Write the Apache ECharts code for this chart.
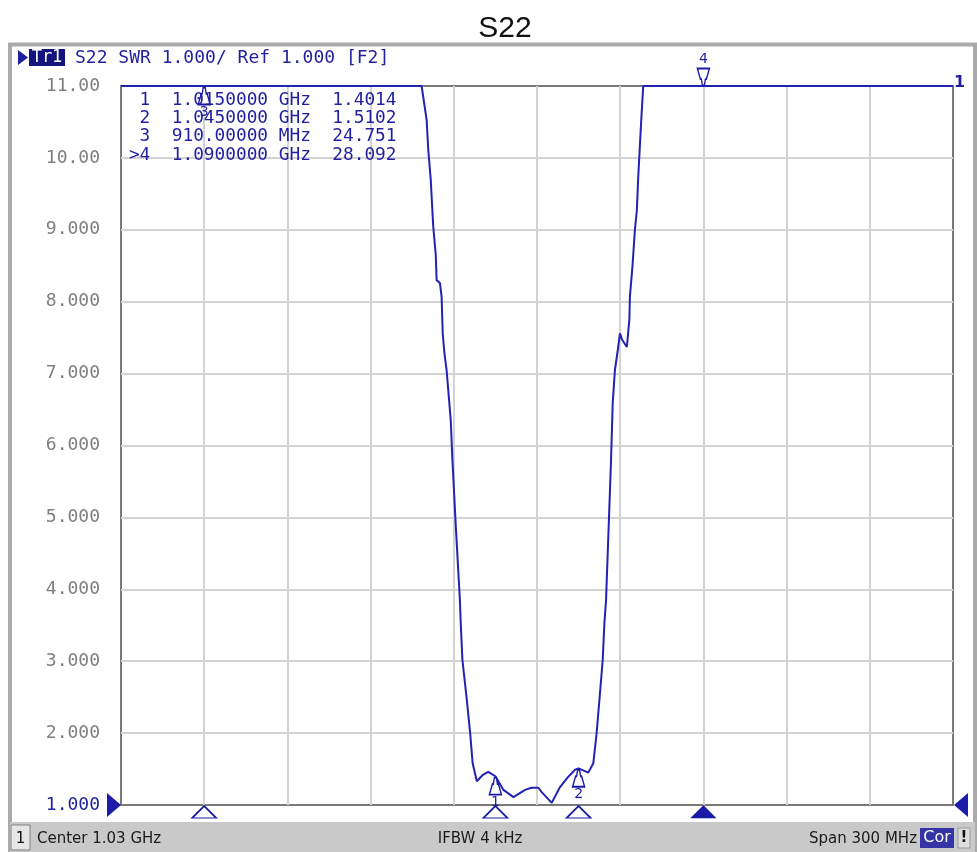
<!DOCTYPE html>
<html>
<head>
<meta charset="utf-8">
<script src="https://cdn.jsdelivr.net/npm/echarts@6/dist/echarts.min.js"></script>
<style>
  body { margin: 0; background: #fff; }
  #chart { width: 977px; height: 852px; }
</style>
</head>
<body>
<div id="chart"></div>
<script>
// stimulus
var centerGHz = 1.03;
var spanMHz = 300;
var ifbw = '4 kHz';
var startMHz = centerGHz * 1000 - spanMHz / 2;

// S22 SWR trace (values above 11 are shown clipped at 11)
var freqMHz = [880, 910, 988.4, 990.2, 990.8, 991.7, 992.3, 992.6, 993.5, 993.8,
    995.0, 995.6, 996.0, 996.4, 996.6, 997.4, 998.3, 998.9, 999.5, 1000.8,
    1002.2, 1002.5, 1003.1, 1004.7, 1005.9, 1006.8, 1008.3, 1010.5, 1012.4, 1015.0,
    1017.9, 1021.5, 1025.7, 1028.0, 1030.5, 1031.7, 1035.3, 1038.3, 1041.0, 1043.7,
    1045.0, 1048.5, 1050.3, 1051.5, 1052.5, 1053.7, 1054.3, 1054.9, 1056.7, 1057.3,
    1058.1, 1059.0, 1059.9, 1060.7, 1062.4, 1063.3, 1063.5, 1064.4, 1065.3, 1066.0,
    1066.5, 1067.4, 1067.8, 1068.3, 1090, 1180];
var swrVals = [11, 11, 11, 10.53, 10.11, 9.69, 9.25, 9.04, 8.65, 8.30,
    8.26, 8.07, 7.56, 7.58, 7.29, 7.05, 6.63, 6.35, 5.80, 4.82,
    3.85, 3.53, 3.02, 2.46, 2.00, 1.58, 1.33, 1.42, 1.46, 1.40,
    1.21, 1.11, 1.21, 1.24, 1.24, 1.18, 1.03, 1.25, 1.38, 1.49,
    1.51, 1.45, 1.58, 2.00, 2.46, 3.02, 3.53, 3.85, 5.80, 6.59,
    7.05, 7.29, 7.56, 7.47, 7.37, 7.75, 8.07, 8.48, 9.00, 9.27,
    9.73, 10.39, 10.67, 11, 11, 11];

// markers
var mkName = ['1', '2', '3', '4'];
var mkFreq = [1015, 1045, 910, 1090];
var mkSwr = [1.4014, 1.5102, 24.751, 28.092];
var activeMk = '4';

// scale
var yMin = 1;
var yMax = 11;
var yDiv = 1;
var refLevel = 1.000;

var blue = '#2222b4';
var txtBlue = '#1f1fa0';
var mkBlue = '#1a1aa6';
var mono = '"DejaVu Sans Mono"';

var upBell = 'path://M5,0 L7,0 L8,6 L9,6 L12,16 L0,16 L3,6 L4,6 Z';
var downBell = 'path://M0,0 L12,0 L9,10 L8,10 L7,16 L5,16 L4,10 L3,10 Z';

var trace = [];
for (var i = 0; i < freqMHz.length; i++) {
    trace.push([freqMHz[i] - startMHz, Math.min(swrVals[i], yMax)]);
}

var mkPoints = [];
var mkStim = [];
var tableLines = [];
for (var i = 0; i < mkName.length; i++) {
    var act = mkName[i] === activeMk;
    mkPoints.push({
        value: [mkFreq[i] - startMHz, Math.min(mkSwr[i], yMax)],
        name: mkName[i],
        symbol: act ? downBell : upBell,
        symbolOffset: act ? [0, -9] : [0, 10],
        label: {position: act ? 'top' : 'bottom', distance: act ? 1 : 0}
    });
    mkStim.push({
        value: [mkFreq[i] - startMHz, refLevel],
        itemStyle: act ? {color: mkBlue, borderColor: mkBlue, borderWidth: 1} : {color: '#fff', borderColor: mkBlue, borderWidth: 1.6}
    });
    var f = mkFreq[i] >= 1000 ? (mkFreq[i] / 1000).toFixed(7) + ' GHz' : mkFreq[i].toFixed(5) + ' MHz';
    tableLines.push((act ? '>' : ' ') + mkName[i] + '  ' + f + '  ' + mkSwr[i].toPrecision(5));
}

var graphics = [
    {type: 'rect', shape: {x: 10, y: 44.5, width: 965, height: 815}, style: {fill: 'none', stroke: '#ababab', lineWidth: 4}},
    {type: 'rect', shape: {x: 10, y: 822, width: 965, height: 30}, style: {fill: '#c9c9c9'}},
    {type: 'rect', shape: {x: 11, y: 825, width: 19, height: 25}, style: {fill: '#e6e6e6', stroke: '#808080', lineWidth: 1}},
    {type: 'text', style: {text: '1', x: 20.5, y: 839, font: '15px "DejaVu Sans"', fill: '#111', align: 'center', verticalAlign: 'middle'}},
    {type: 'text', style: {text: 'Center ' + centerGHz.toFixed(2) + ' GHz', x: 37, y: 839, font: '15px "DejaVu Sans"', fill: '#1a1a1a', align: 'left', verticalAlign: 'middle'}},
    {type: 'text', style: {text: 'IFBW ' + ifbw, x: 480, y: 839, font: '15px "DejaVu Sans"', fill: '#1a1a1a', align: 'center', verticalAlign: 'middle'}},
    {type: 'text', style: {text: 'Span ' + spanMHz + ' MHz', x: 917, y: 839, font: '15px "DejaVu Sans"', fill: '#1a1a1a', align: 'right', verticalAlign: 'middle'}},
    {type: 'rect', shape: {x: 920, y: 828, width: 34, height: 20}, style: {fill: '#3434a6'}},
    {type: 'text', style: {text: 'Cor', x: 937, y: 838, font: '16px "DejaVu Sans"', fill: '#fff', align: 'center', verticalAlign: 'middle'}},
    {type: 'rect', shape: {x: 958, y: 828, width: 12, height: 20}, style: {fill: '#dedede', stroke: '#999', lineWidth: 1}},
    {type: 'text', style: {text: '!', x: 964, y: 838, font: 'bold 15px "DejaVu Sans"', fill: '#111', align: 'center', verticalAlign: 'middle'}},
    {type: 'polygon', shape: {points: [[18, 50], [28, 57.5], [18, 65]]}, style: {fill: txtBlue}},
    {type: 'rect', shape: {x: 29, y: 49, width: 36, height: 17}, style: {fill: '#14147e'}},
    {type: 'text', style: {text: 'Tr1', x: 47, y: 58, font: '17px ' + mono, fill: '#fff', align: 'center', verticalAlign: 'middle'}},
    {type: 'text', style: {text: 'S22 SWR ' + yDiv.toFixed(3) + '/ Ref ' + refLevel.toFixed(3) + ' [F2]', x: 75, y: 58, font: '18px ' + mono, fill: txtBlue, align: 'left', verticalAlign: 'middle'}}
];
for (var i = 0; i < tableLines.length; i++) {
    graphics.push({type: 'text', z: 10, style: {text: tableLines[i], x: 128.9, y: 100 + i * 18.3, font: '17.8px ' + mono, fill: txtBlue, align: 'left', verticalAlign: 'middle'}});
}

var myChart = echarts.init(document.getElementById('chart'));
var option = {
    animation: false,
    title: {
        text: 'S22',
        left: 500,
        top: 9,
        textAlign: 'center',
        textStyle: {fontFamily: 'Liberation Sans', fontSize: 30, fontWeight: 'normal', color: '#111'}
    },
    grid: {
        left: 121,
        right: 24,
        top: 86,
        bottom: 47,
        show: true,
        borderColor: '#7a7a7a',
        borderWidth: 2
    },
    xAxis: {
        type: 'value',
        min: 0,
        max: spanMHz,
        interval: spanMHz / 10,
        axisLabel: {show: false},
        axisTick: {show: false},
        axisLine: {show: false},
        splitLine: {show: true, showMinLine: false, showMaxLine: false, lineStyle: {color: '#d3d3d3', width: 2}}
    },
    yAxis: {
        type: 'value',
        min: yMin,
        max: yMax,
        interval: yDiv,
        axisLine: {show: false},
        axisTick: {show: false},
        axisLabel: {
            margin: 21,
            fontFamily: 'DejaVu Sans Mono',
            fontSize: 18,
            color: function (v) { return Number(v) === refLevel ? txtBlue : '#7f7f7f'; },
            formatter: function (v) { return v >= 10 ? v.toFixed(2) : v.toFixed(3); }
        },
        splitLine: {show: true, showMinLine: false, showMaxLine: false, lineStyle: {color: '#d3d3d3', width: 2}}
    },
    series: [
        {
            name: 'S22',
            type: 'line',
            data: trace,
            showSymbol: false,
            clip: false,
            z: 3,
            lineStyle: {color: blue, width: 2},
            endLabel: {show: true, formatter: '1', color: txtBlue, fontFamily: 'DejaVu Sans', fontSize: 16, fontWeight: 'bold', distance: 1, offset: [0, -3]}
        },
        {
            name: 'markers',
            type: 'scatter',
            data: mkPoints,
            symbolSize: [12, 17],
            clip: false,
            z: 4,
            itemStyle: {color: '#fff', borderColor: mkBlue, borderWidth: 1.6, opacity: 1},
            label: {show: true, formatter: '{b}', color: txtBlue, fontFamily: 'DejaVu Sans', fontSize: 14}
        },
        {
            name: 'stim',
            type: 'scatter',
            data: mkStim,
            symbol: 'triangle',
            symbolSize: [24, 12],
            symbolOffset: [0, 7],
            clip: false,
            z: 4,
            itemStyle: {opacity: 1}
        },
        {
            name: 'ref',
            type: 'scatter',
            data: [
                {value: [0, refLevel], symbol: 'path://M0,0 L10,5 L0,10 Z', symbolOffset: [-7, 0]},
                {value: [spanMHz, refLevel], symbol: 'path://M10,0 L0,5 L10,10 Z', symbolOffset: [8, 0]}
            ],
            symbolSize: [14, 24],
            clip: false,
            z: 4,
            itemStyle: {color: '#1c1ca8', opacity: 1}
        }
    ],
    graphic: graphics
};
myChart.setOption(option);
</script>
</body>
</html>
